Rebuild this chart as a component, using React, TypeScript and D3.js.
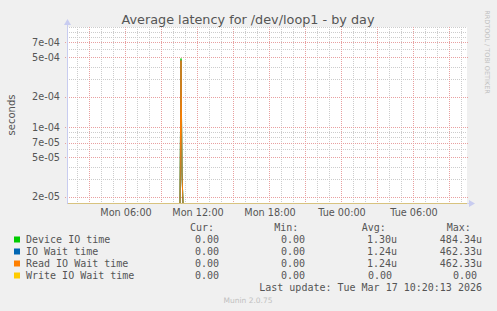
import React from "react";
import * as d3 from "d3";

// ---- data ----
const timeRange = ["2026-03-16 01:10", "2026-03-17 10:30"];
const spikeTimes = ["2026-03-16 10:35", "2026-03-16 10:40", "2026-03-16 10:45", "2026-03-16 10:50"];
const deviceIOTime = [0, 484.34e-6, 35e-6, 0];
const ioWaitTime = [0, 462.33e-6, 34e-6, 0];
const readIOWaitTime = [0, 462.33e-6, 34e-6, 0];
const writeIOWaitTime = [0, 0, 0, 0];

const seriesNames = ["Device IO time", "IO Wait time", "Read IO Wait time", "Write IO Wait time"];
const seriesColors = ["#00CC00", "#0066B3", "#FF8000", "#FFCC00"];
const curValues = ["0.00", "0.00", "0.00", "0.00"];
const minValues = ["0.00", "0.00", "0.00", "0.00"];
const avgValues = ["1.30u", "1.24u", "1.24u", "0.00"];
const maxValues = ["484.34u", "462.33u", "462.33u", "0.00"];

const yDomain = [1.74e-5, 1e-3];
const yMajorTicks = [7e-4, 5e-4, 2e-4, 1e-4, 7e-5, 5e-5, 2e-5];
const yMajorLabels = ["7e-04", "5e-04", "2e-04", "1e-04", "7e-05", "5e-05", "2e-05"];
const yMinorTicks = [1e-3, 9e-4, 8e-4, 6e-4, 4e-4, 3e-4, 9e-5, 8e-5, 6e-5, 4e-5, 3e-5];

const title = "Average latency for /dev/loop1 - by day";
const yLabel = "seconds";
const lastUpdate = "Last update: Tue Mar 17 10:20:13 2026";
const footer = "Munin 2.0.75";
const watermark = "RRDTOOL / TOBI OETIKER";

// ---- layout ----
const W = 497, H = 311;
const L = 67, R = 467, T = 27, B = 203;

const parse = d3.timeParse("%Y-%m-%d %H:%M");

export default function App() {
  const x = d3.scaleTime().domain(timeRange.map((s) => parse(s) as Date)).range([L, R]);
  const y = d3.scaleLog().domain(yDomain).range([B, T]);
  const yy = (v: number) => (v > 0 ? y(v) : B + 0.5);

  const start = x.domain()[0], end = x.domain()[1];
  const sTimes = spikeTimes.map((s) => parse(s) as Date);
  const allSeries = [deviceIOTime, ioWaitTime, readIOWaitTime, writeIOWaitTime];
  const line = d3.line<[Date, number]>().x((d) => x(d[0])).y((d) => yy(d[1]));
  const paths = allSeries.map((vals) => {
    const pts: [Date, number][] = [[start, 0], ...sTimes.map((t, i) => [t, vals[i]] as [Date, number]), [end, 0]];
    return line(pts) as string;
  });

  const hourTicks = d3.timeHour.every(1)!.range(start, end);
  const labelTicks = d3.timeHour.every(6)!.range(start, end);
  const fmt = d3.timeFormat("%a %H:%M");

  const gray = "#555";
  const mono = "'DejaVu Sans Mono', monospace";
  const sans = "'DejaVu Sans', sans-serif";
  const rowY = (i: number) => 243 + i * 12;

  return (
    <svg width={W} height={H} style={{ position: "absolute", left: 0, top: 0, background: "#f0f0f0" }}>
      <rect x={0} y={0} width={W} height={H} fill="#f0f0f0" />
      <rect x={L} y={T} width={R - L} height={B - T} fill="#ffffff" />

      {/* minor grid */}
      {yMinorTicks.map((v, i) => (
        <line key={"ym" + i} x1={L} x2={R} y1={Math.round(y(v)) + 0.5} y2={Math.round(y(v)) + 0.5}
          stroke="#cccccc" strokeWidth={1} strokeDasharray="1,1" />
      ))}
      {hourTicks.filter((t) => t.getHours() % 3 !== 0).map((t, i) => (
        <line key={"xm" + i} x1={Math.round(x(t)) + 0.5} x2={Math.round(x(t)) + 0.5} y1={T} y2={B}
          stroke="#cccccc" strokeWidth={1} strokeDasharray="1,1" />
      ))}
      {/* major grid */}
      {yMajorTicks.map((v, i) => (
        <line key={"yM" + i} x1={L - 2} x2={R + 2} y1={Math.round(y(v)) + 0.5} y2={Math.round(y(v)) + 0.5}
          stroke="#e8a0a0" strokeWidth={1} strokeDasharray="1,1" />
      ))}
      {hourTicks.filter((t) => t.getHours() % 3 === 0).map((t, i) => (
        <line key={"xM" + i} x1={Math.round(x(t)) + 0.5} x2={Math.round(x(t)) + 0.5} y1={T} y2={B + 2}
          stroke="#e8a0a0" strokeWidth={1} strokeDasharray="1,1" />
      ))}

      {/* data lines */}
      {paths.map((d, i) => (
        <path key={"p" + i} d={d} fill="none" stroke={seriesColors[i]} strokeWidth={1} />
      ))}

      {/* axes (drawn over data) */}
      <line x1={L + 0.5} x2={L + 0.5} y1={T - 4} y2={B + 1} stroke="#c8ccf0" strokeWidth={1} />
      <line x1={L} x2={R + 3} y1={B + 0.5} y2={B + 0.5} stroke="#b8bce8" strokeOpacity={0.55} strokeWidth={1} />
      <path d={`M${L - 3},${T - 2} L${L + 4},${T - 2} L${L + 0.5},${T - 8} Z`} fill="#c8ccf0" />
      <path d={`M${R + 2},${B - 3} L${R + 2},${B + 4} L${R + 8},${B + 0.5} Z`} fill="#c8ccf0" />

      {/* y labels */}
      {yMajorTicks.map((v, i) => (
        <text key={"yl" + i} x={60} y={y(v) + 3.5} textAnchor="end" fontFamily={sans} fontSize={9.7} fill={gray}>
          {yMajorLabels[i]}
        </text>
      ))}
      {/* x labels */}
      {labelTicks.map((t, i) => (
        <text key={"xl" + i} x={x(t) + 1} y={216} textAnchor="middle" fontFamily={sans} fontSize={9.7} fill={gray}>
          {fmt(t)}
        </text>
      ))}

      <text x={248} y={24} textAnchor="middle" fontFamily={sans} fontSize={12.8} fill={gray}>{title}</text>
      <text transform={`translate(14.5,115) rotate(-90)`} textAnchor="middle" fontFamily={sans} fontSize={10} fill={gray}>{yLabel}</text>
      <text transform={`translate(485,52) rotate(90)`} textAnchor="middle" fontFamily={sans} fontSize={6.5} fill="#c0c0c0">{watermark}</text>

      {/* legend */}
      <text x={190} y={231} fontFamily={mono} fontSize={10} fill={gray}>Cur:</text>
      <text x={274.3} y={231} fontFamily={mono} fontSize={10} fill={gray}>Min:</text>
      <text x={361.7} y={231} fontFamily={mono} fontSize={10} fill={gray}>Avg:</text>
      <text x={446.7} y={231} fontFamily={mono} fontSize={10} fill={gray}>Max:</text>
      {seriesNames.map((n, i) => (
        <g key={"lg" + i}>
          <rect x={14} y={rowY(i) - 6.5} width={6} height={6} fill={seriesColors[i]} />
          <text x={26} y={rowY(i)} fontFamily={mono} fontSize={10} fill={gray}>{n}</text>
          <text x={219} y={rowY(i)} textAnchor="end" fontFamily={mono} fontSize={10} fill={gray}>{curValues[i]}</text>
          <text x={305} y={rowY(i)} textAnchor="end" fontFamily={mono} fontSize={10} fill={gray}>{minValues[i]}</text>
          <text x={avgValues[i].endsWith("u") ? 397 : 392} y={rowY(i)} textAnchor="end" fontFamily={mono} fontSize={10} fill={gray}>{avgValues[i]}</text>
          <text x={maxValues[i].endsWith("u") ? 482 : 477} y={rowY(i)} textAnchor="end" fontFamily={mono} fontSize={10} fill={gray}>{maxValues[i]}</text>
        </g>
      ))}
      <text x={482} y={291} textAnchor="end" fontFamily={mono} fontSize={10} fill={gray}>{lastUpdate}</text>
      <text x={248} y={303} textAnchor="middle" fontFamily={sans} fontSize={7.5} fill="#c0c0c0">{footer}</text>
    </svg>
  );
}
